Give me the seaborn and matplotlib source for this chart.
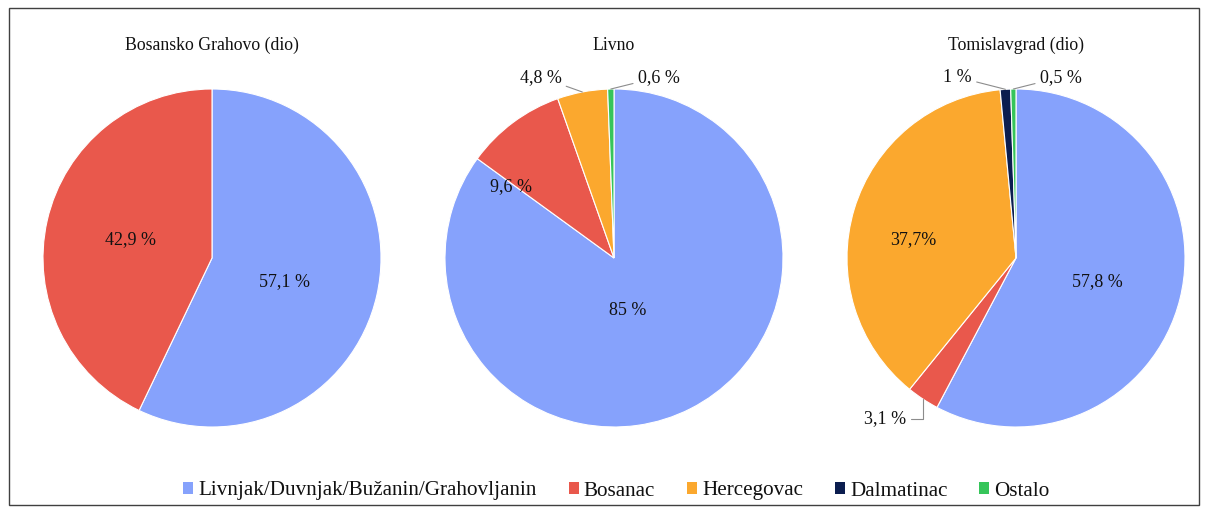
import numpy as np
import matplotlib
matplotlib.use("Agg")
import matplotlib.pyplot as plt
import seaborn as sns
from matplotlib.patches import Patch, Rectangle

# Data
groups = ["Livnjak/Duvnjak/Bužanin/Grahovljanin", "Bosanac", "Hercegovac", "Dalmatinac", "Ostalo"]
titles = ["Bosansko Grahovo (dio)", "Livno", "Tomislavgrad (dio)"]

grahovo_vals = [57.1, 42.9]
grahovo_cats = [0, 1]
grahovo_labels = ["57,1 %", "42,9 %"]

livno_vals = [85, 9.6, 4.8, 0.6]
livno_cats = [0, 1, 2, 4]
livno_labels = ["85 %", "9,6 %", "4,8 %", "0,6 %"]

tomislav_vals = [57.8, 3.1, 37.7, 1, 0.5]
tomislav_cats = [0, 1, 2, 3, 4]
tomislav_labels = ["57,8 %", "3,1 %", "37,7%", "1 %", "0,5 %"]

palette = sns.color_palette(["#86A2FC", "#E9584C", "#FBA82E", "#0B1D4F", "#36C55A"])

sns.set_theme(style="white")
plt.rcParams['font.family'] = ['Liberation Serif', 'DejaVu Serif']
plt.rcParams['text.color'] = '#111111'

# label placement (in pie-radius units): (x, y, outside?, elbow?)
label_pos = [
    [(0.43, -0.14, False, False), (-0.48, 0.11, False, False)],
    [(0.08, -0.31, False, False), (-0.61, 0.42, False, False), (-0.31, 1.07, True, False), (0.14, 1.07, True, False)],
    [(0.48, -0.14, False, False), (-0.65, -0.95, True, True), (-0.61, 0.11, False, False),
     (-0.26, 1.07, True, False), (0.14, 1.07, True, False)],
]

W, H = 1207, 513
fig = plt.figure(figsize=(W / 100, H / 100), dpi=100)
fig.patch.set_facecolor("white")

centers = [(212, 258), (614, 258), (1016, 258)]
radius = 169

datasets = [(grahovo_vals, grahovo_cats, grahovo_labels),
            (livno_vals, livno_cats, livno_labels),
            (tomislav_vals, tomislav_cats, tomislav_labels)]

for i, (vals, cats, labs) in enumerate(datasets):
    cx, cy = centers[i]
    ax = fig.add_axes([(cx - radius) / W, 1 - (cy + radius) / H, 2 * radius / W, 2 * radius / H])
    wedges, _ = ax.pie(vals, colors=[palette[c] for c in cats], startangle=90, counterclock=False,
                       wedgeprops=dict(edgecolor="white", linewidth=0.8))
    ax.set_xlim(-1, 1)
    ax.set_ylim(-1, 1)
    ax.set_aspect("auto")
    ax.set_title(titles[i], fontsize=12.8, pad=28, color="#111111")
    for w, lab, (lx, ly, outside, elbow) in zip(wedges, labs, label_pos[i]):
        if not outside:
            ax.text(lx, ly, lab, ha="center", va="center", fontsize=13)
        else:
            mid = np.deg2rad((w.theta1 + w.theta2) / 2)
            ex, ey = np.cos(mid), np.sin(mid)
            ha = "right" if lx < ex else "left"
            style = "angle,angleA=0,angleB=90,rad=0" if elbow else "arc3"
            ax.annotate(lab, xy=(ex, ey), xytext=(lx, ly), ha=ha, va="center", fontsize=13,
                        annotation_clip=False,
                        arrowprops=dict(arrowstyle="-", color="#8c8c8c", lw=0.8,
                                        shrinkA=1, shrinkB=0, connectionstyle=style))

handles = [Patch(facecolor=palette[k], edgecolor="none") for k in range(len(groups))]
fig.legend(handles, groups, loc="center", bbox_to_anchor=(616.5 / W, 1 - 491 / H), ncol=5, frameon=False,
           fontsize=15.2, handlelength=0.47, handleheight=0.5, handletextpad=0.25, columnspacing=1.5)

fig.patches.append(Rectangle((9 / W, 1 - 505 / H), (1199 - 9) / W, (505 - 8) / H,
                             transform=fig.transFigure, fill=False, edgecolor="#404040", linewidth=1))

fig.savefig("out.png", dpi=100)
